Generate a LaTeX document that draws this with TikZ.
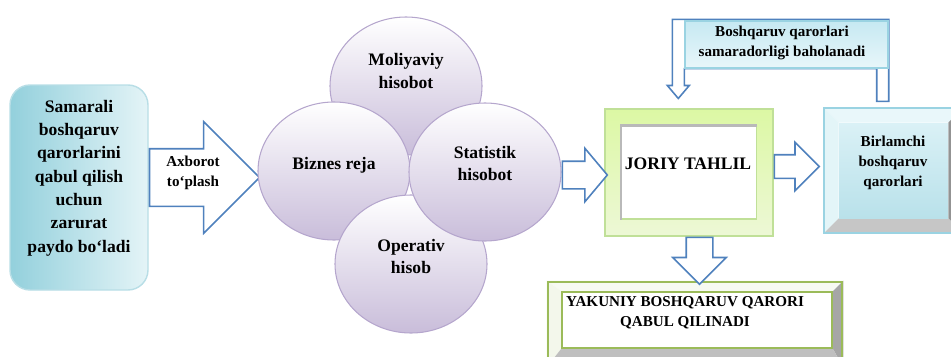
\documentclass[tikz,border=0pt]{standalone}
\usepackage{fontspec}
\setmainfont{Liberation Serif}
\usepackage{xcolor}
\usetikzlibrary{positioning,shapes.geometric,shapes.arrows,backgrounds}

\definecolor{arrblue}{HTML}{4F81BD}
\definecolor{lbcyan}{HTML}{93D0DC}
\definecolor{lblight}{HTML}{E4F4F7}
\definecolor{lbedge}{HTML}{B8DEE6}
\definecolor{lavedge}{HTML}{B5A6CD}
\definecolor{lavbot}{HTML}{C9BDDA}
\definecolor{jgtop}{HTML}{DCF8A4}
\definecolor{jgbot}{HTML}{EDF8D6}
\definecolor{jgedge}{HTML}{C0E098}
\definecolor{bltop}{HTML}{DAF1F6}
\definecolor{blbot}{HTML}{B9E1EA}
\definecolor{bledge}{HTML}{9AD3E2}
\definecolor{etop}{HTML}{C6E9F2}
\definecolor{ebot}{HTML}{E8F6FA}
\definecolor{ygreen}{HTML}{9BBB59}

\begin{document}
\begin{tikzpicture}[
  lbox/.style={rectangle, rounded corners=0.4cm, draw=lbedge, line width=0.8pt,
               left color=lbcyan, right color=lblight,
               minimum width=2.76cm, minimum height=4.1cm},
  bubble/.style={ellipse, draw=lavedge, line width=0.6pt,
                 top color=white, bottom color=lavbot,
                 minimum width=3.04cm, minimum height=2.76cm},
  blk/.style={draw=arrblue, fill=white, line width=0.9pt},
  barrow/.style={blk, single arrow, inner xsep=0pt, anchor=tail},
  jframe/.style={rectangle, draw=jgedge, line width=0.6pt,
                 top color=jgtop, bottom color=jgbot,
                 minimum width=3.36cm, minimum height=2.54cm},
  jinner/.style={rectangle, draw=jgedge, fill=white, line width=0.6pt,
                 minimum width=2.7cm, minimum height=1.86cm},
  bout/.style={rectangle, draw=bledge, line width=0.8pt,
               minimum width=2.76cm, minimum height=2.5cm},
  bin/.style={rectangle, top color=bltop, bottom color=blbot,
              minimum width=2.18cm, minimum height=1.9cm},
  yout/.style={rectangle, draw=ygreen, line width=1.5pt,
               minimum width=5.88cm, minimum height=1.68cm},
  yin/.style={rectangle, draw=ygreen, fill=white, line width=1pt,
              minimum width=5.4cm, minimum height=1.12cm},
  ebox/.style={rectangle, draw=bledge, line width=0.8pt,
               top color=etop, bottom color=ebot,
               minimum width=4.06cm, minimum height=0.94cm},
  txtbig/.style={font=\fontsize{10}{13.3}\selectfont\bfseries, align=center},
  txtmid/.style={font=\fontsize{10}{12.8}\selectfont\bfseries, align=center},
  txtsmall/.style={font=\fontsize{8.6}{11.4}\selectfont\bfseries, align=center}]

  \useasboundingbox (0,0) rectangle (19.02,7.12);

  \node[lbox] (need) at (1.58,3.37) {};
  \node[txtbig] (needt) at (1.58,3.56)
    {Samarali\\boshqaruv\\qarorlarini\\qabul qilish\\uchun\\zarurat\\paydo bo‘ladi};

  \node[barrow, minimum height=2.2cm, inner ysep=0.56cm,
        single arrow head extend=0.54cm] (collect) at ([yshift=0.2cm]need.east) {};
  \node[txtsmall] (collectt) at (3.86,3.66) {Axborot\\to‘plash};

  \node[bubble] (moliya) at (8.12,5.4) {};
  \node[txtmid] (moliyat) at ([yshift=0.3cm]moliya) {Moliyaviy\\hisobot};
  \node[bubble] (biznes) at (6.68,3.70) {};
  \node[txtmid] (biznest) at ([yshift=0.12cm]biznes) {Biznes reja};
  \node[bubble] (operativ) at (8.22,1.84) {};
  \node[txtmid] (operativt) at ([yshift=0.15cm]operativ) {Operativ\\hisob};
  \node[bubble] (statistik) at (9.7,3.68) {};
  \node[txtmid] (statistikt) at ([yshift=0.17cm]statistik) {Statistik\\hisobot};

  \node[jframe] (cur) at (13.78,3.67) {};
  \node[jinner] (curin) at (cur) {};
  \draw[gray!55, line width=1.2pt] (curin.south west) -- (curin.north west) -- (curin.north east);
  \node[txtmid] (curt) at (13.76,3.84) {JORIY TAHLIL};

  \node[barrow, minimum height=0.9cm, inner ysep=0.26cm,
        single arrow head extend=0.26cm, single arrow tip angle=100]
        (tocur) at ([yshift=-0.06cm]statistik.east) {};

  \node[bout] (prim) at (17.86,3.71) {};
  \node[bin] (primin) at (17.87,3.71) {};
  \node[txtsmall] (primt) at (17.86,3.86) {Birlamchi\\boshqaruv\\qarorlari};

  \node[barrow, minimum height=0.9cm, inner ysep=0.22cm,
        single arrow head extend=0.25cm] (toprim) at ([yshift=0.12cm]cur.east) {};

  \node[yout] (final) at (13.9,0.64) {};
  \node[yin] (finalin) at (13.94,0.72) {};
  \node[txtsmall] (finalt) at (13.7,0.86) {YAKUNIY BOSHQARUV QARORI\\QABUL QILINADI};

  \node[barrow, rotate=-90, minimum height=0.94cm, inner ysep=0.25cm,
        single arrow head extend=0.27cm] (tofinal) at ([xshift=0.21cm]cur.south) {};

  \node[ebox] (eval) at (15.73,6.23) {};
  \node[txtsmall] (evalt) at (15.64,6.26) {Boshqaruv qarorlari\\samaradorligi baholanadi};

  \begin{scope}[on background layer]
    \draw[blk] ([xshift=-0.24cm,yshift=0.12cm]prim.north -| eval.east)
      -- ([yshift=0.12cm]prim.north -| eval.east)
      -- ([yshift=0.02cm]eval.north east) -- ([xshift=-0.24cm,yshift=0.02cm]eval.north west)
      -- ([xshift=-0.24cm,yshift=0.46cm]cur.north -| eval.west) -- ++(-0.1,0)
      -- ([xshift=-0.12cm,yshift=0.2cm]cur.north -| eval.west)
      -- ([xshift=0.1cm,yshift=0.46cm]cur.north -| eval.west)
      -- ([yshift=0.46cm]cur.north -| eval.west)
      -- (eval.south west) -- ([xshift=-0.24cm]eval.south east) -- cycle;
    \fill[bltop!60!white] (prim.north west) -- (prim.north east) -- (primin.north east) -- (primin.north west) -- cycle;
    \fill[bltop!75!white] (prim.north west) -- (prim.south west) -- (primin.south west) -- (primin.north west) -- cycle;
    \fill[gray!85] (prim.north east) -- (prim.south east) -- (primin.south east) -- (primin.north east) -- cycle;
    \fill[gray!45] (prim.south west) -- (prim.south east) -- (primin.south east) -- (primin.south west) -- cycle;
    \fill[ygreen!8] (final.north west) -- (final.north east) -- (finalin.north east) -- (finalin.north west) -- cycle;
    \fill[ygreen!12] (final.north west) -- (final.south west) -- (finalin.south west) -- (finalin.north west) -- cycle;
    \fill[gray!70] (final.north east) -- (final.south east) -- (finalin.south east) -- (finalin.north east) -- cycle;
    \fill[gray!50] (final.south west) -- (final.south east) -- (finalin.south east) -- (finalin.south west) -- cycle;
  \end{scope}
\end{tikzpicture}
\end{document}
